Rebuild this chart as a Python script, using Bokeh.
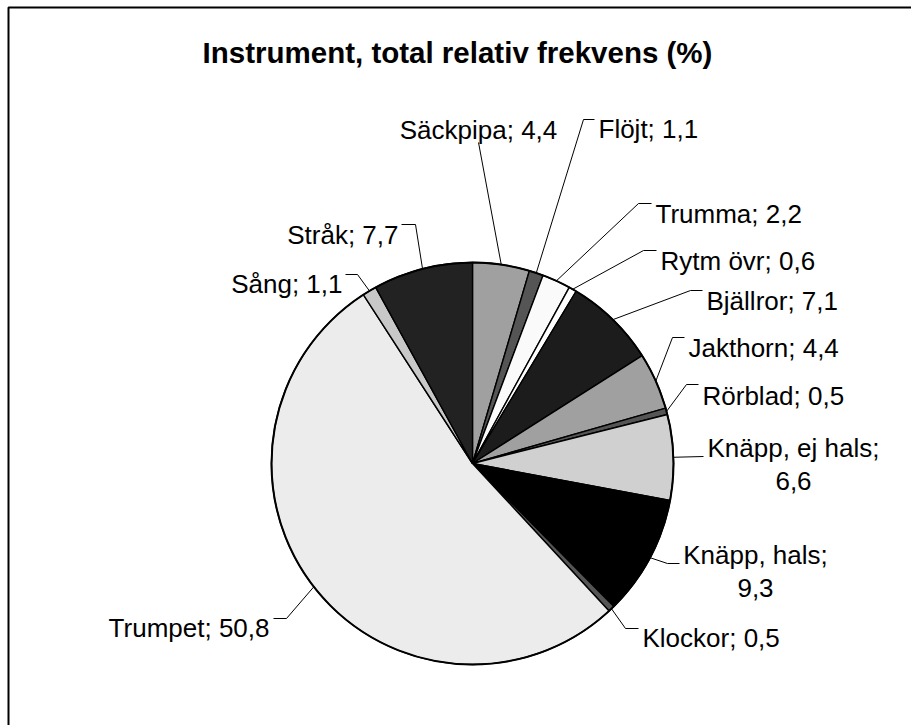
import numpy as np
from bokeh.plotting import figure
from bokeh.models import Range1d
from bokeh.core.properties import value
from bokeh.embed import file_html
from bokeh.resources import INLINE

# ---- data -------------------------------------------------------------
instruments = ["Säckpipa", "Flöjt", "Trumma", "Rytm övr", "Bjällror", "Jakthorn",
               "Rörblad", "Knäpp, ej hals", "Knäpp, hals", "Klockor", "Trumpet",
               "Sång", "Stråk"]
shares = [4.4, 1.1, 2.2, 0.6, 7.1, 4.4, 0.5, 6.6, 9.3, 0.5, 50.8, 1.1, 7.7]
fills = ["#a0a0a0", "#555555", "#fafafa", "#ffffff", "#1c1c1c", "#a0a0a0",
         "#555555", "#d0d0d0", "#000000", "#555555", "#ececec", "#c8c8c8",
         "#222222"]
chart_title = "Instrument, total relativ frekvens (%)"

# ---- layout (screen pixels measured from the top-left corner) ---------
W, H = 911, 725
CX, CY, R = 472, 463, 201

# label x, baseline y, alignment, leader points running from the label
label_layout = [
    (478, 129, "center", [(478, 142)]),
    (598, 128, "left", [(594, 119), (583, 119)]),
    (655, 213, "left", [(651, 203), (638, 203)]),
    (660, 260, "left", [(656, 250), (643, 250)]),
    (706, 300, "left", [(702, 290), (690, 290)]),
    (688, 347, "left", [(684, 337), (672, 337)]),
    (702, 395, "left", [(698, 384), (686, 384)]),
    (793, 447, "two", [(703, 456)]),
    (755, 554, "two", [(679, 563), (667, 563)]),
    (642, 637, "left", [(638, 628), (625, 628)]),
    (269, 627, "right", [(273, 618), (286, 618)]),
    (342, 283, "right", [(345, 274), (357, 274)]),
    (398, 234, "right", [(401, 224), (415, 224)]),
]
LINE_GAP = 33
FONT = value("Liberation Sans")


def Y(py):
    return H - py


def fmt(v):
    return f"{v:.1f}".replace(".", ",")


p = figure(width=W, height=H, x_range=Range1d(0, W), y_range=Range1d(0, H),
           output_backend="svg", toolbar_location=None, min_border=0)
p.axis.visible = False
p.grid.visible = False
p.outline_line_color = None
p.background_fill_color = "white"
p.border_fill_color = "white"

# chart frame (top and left edges; it runs on past the page)
p.line([8, 8, W + 20], [Y(H + 20), Y(7), Y(7)], line_color="black", line_width=2)

# ---- pie ----------------------------------------------------------------
vals = np.array(shares, dtype=float)
total = vals.sum()
cum = np.cumsum(vals)
start = np.pi / 2 - 2 * np.pi * cum / total
end = np.pi / 2 - 2 * np.pi * (cum - vals) / total
mid = np.pi / 2 - 2 * np.pi * (cum - vals / 2) / total

p.wedge(x=CX, y=Y(CY), radius=R, start_angle=start, end_angle=end,
        fill_color=fills, line_color="black", line_width=1.4)
p.circle(x=[CX], y=[Y(CY)], radius=R, fill_color=None, line_color="black",
         line_width=2)

# ---- leader lines and labels -------------------------------------------
lx, ly = [], []
for (x, yb, align, pts), th in zip(label_layout, mid):
    ex = CX + R * np.cos(th)
    ey = Y(CY) + R * np.sin(th)
    lx.append([q[0] for q in pts] + [ex])
    ly.append([Y(q[1]) for q in pts] + [ey])
p.multi_line(lx, ly, line_color="black", line_width=1)

for (x, yb, align, pts), name, v in zip(label_layout, instruments, shares):
    if align == "two":
        p.text([x, x], [Y(yb), Y(yb + LINE_GAP)], text=[f"{name};", fmt(v)],
               text_font=FONT, text_font_size="26px", text_color="black",
               text_align="center", text_baseline="alphabetic")
    else:
        p.text([x], [Y(yb)], text=[f"{name}; {fmt(v)}"],
               text_font=FONT, text_font_size="26px", text_color="black",
               text_align=align, text_baseline="alphabetic")

# ---- title ----------------------------------------------------------------
p.text([457], [Y(52)], text=[chart_title], text_font=FONT,
       text_font_size="29.5px", text_font_style="bold", text_color="black",
       text_align="center", text_baseline="alphabetic")

open("out.html", "w").write(file_html(p, INLINE))
